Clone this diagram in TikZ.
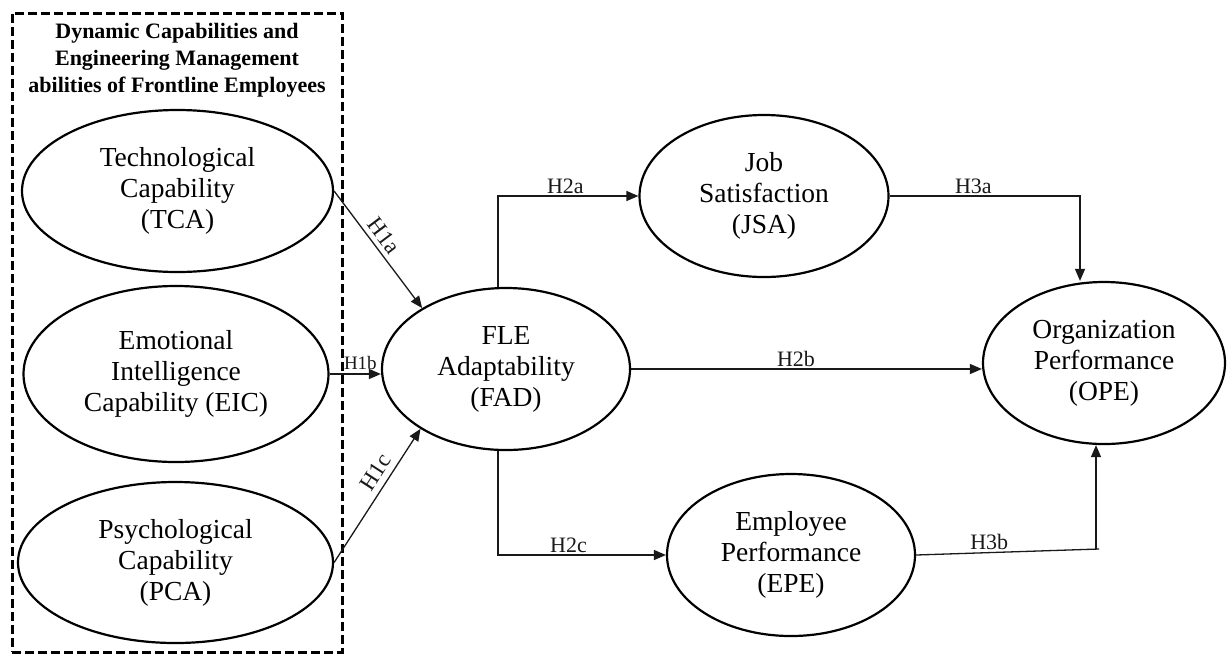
\documentclass[tikz,border=0pt]{standalone}
\usepackage{fontspec}
\setmainfont{Liberation Serif}
\usetikzlibrary{shapes.geometric,arrows.meta,calc}
\tikzset{
  ell/.style={draw, line width=2.2pt, ellipse, inner sep=0pt, align=center,
              font=\fontsize{27.5}{31}\selectfont},
  lnk/.style={line width=1.3pt, draw=black!90},
  conn/.style={lnk, -{Triangle[length=12pt,width=10pt]}},
  lab/.style={font=\fontsize{22}{24}\selectfont, inner sep=2pt, text=black!90},
  slab/.style={font=\fontsize{23}{26}\selectfont, inner sep=2pt, text=black!90},
  grp/.style={draw, line width=3pt, dash pattern=on 9pt off 4pt}
}
\begin{document}
\begin{tikzpicture}[x=1pt,y=-1pt]
\useasboundingbox[fill=white] (0,0) rectangle (1230,657);

% group box
\node[grp, minimum width=330pt, minimum height=639pt, inner sep=0pt] (box) at (177,332.5) {};
\node[align=center, font=\fontsize{22}{27}\selectfont\bfseries] (title) at (177,60)
  {Dynamic Capabilities and\\Engineering Management\\abilities of Frontline Employees};

% constructs
\node[ell, minimum width=311pt, minimum height=162pt] (TCA) at (177.5,191) {Technological\\Capability\\(TCA)};
\node[ell, minimum width=305pt, minimum height=176pt] (EIC) at (176,374) {Emotional\\Intelligence\\Capability (EIC)};
\node[ell, minimum width=315pt, minimum height=161pt] (PCA) at (175.5,562.5) {Psychological\\Capability\\(PCA)};
\node[ell, minimum width=248pt, minimum height=162pt] (FAD) at (506,369) {FLE\\Adaptability\\(FAD)};
\node[ell, minimum width=249pt, minimum height=162pt] (JSA) at (764,196) {Job\\Satisfaction\\(JSA)};
\node[ell, minimum width=248pt, minimum height=162pt] (EPE) at (791,555) {Employee\\Performance\\(EPE)};
\node[ell, minimum width=242pt, minimum height=162pt] (OPE) at (1104,363) {Organization\\Performance\\(OPE)};

\coordinate (h3b) at (1099,549);

% H1 paths
\draw[conn] (TCA.east) -- node[slab, sloped, above=3pt, pos=.45] {H1a} (FAD.144.5);
\draw[conn] (EIC.east) -- node[lab, font=\fontsize{19}{22}\selectfont, above=2pt, pos=.6] {H1b} (EIC.east -| FAD.west);
\draw[conn] (PCA.east) -- node[slab, sloped, above=4pt, pos=.62] {H1c} (FAD.215);

% H2 paths
\draw[conn] ($(FAD.north)+(-8,0)$) |- node[lab, above, pos=.74] {H2a} (JSA.west);
\draw[conn] (FAD.east) -- node[lab, above, pos=.47] {H2b} (FAD.east -| OPE.west);
\draw[conn] ($(FAD.south)+(-8,0)$) |- node[lab, above, pos=.71] {H2c} (EPE.west);

% H3 paths
\draw[conn] (JSA.east) -| node[lab, above, pos=.22] {H3a} ($(OPE.north)+(-24,0)$);
\draw[lnk] (EPE.east) -- node[lab, above, pos=.4] {H3b} (h3b);
\draw[conn] ($(h3b)+(-3,0)$) -- ($(h3b |- OPE.south)+(-3,0)$);
\end{tikzpicture}
\end{document}
